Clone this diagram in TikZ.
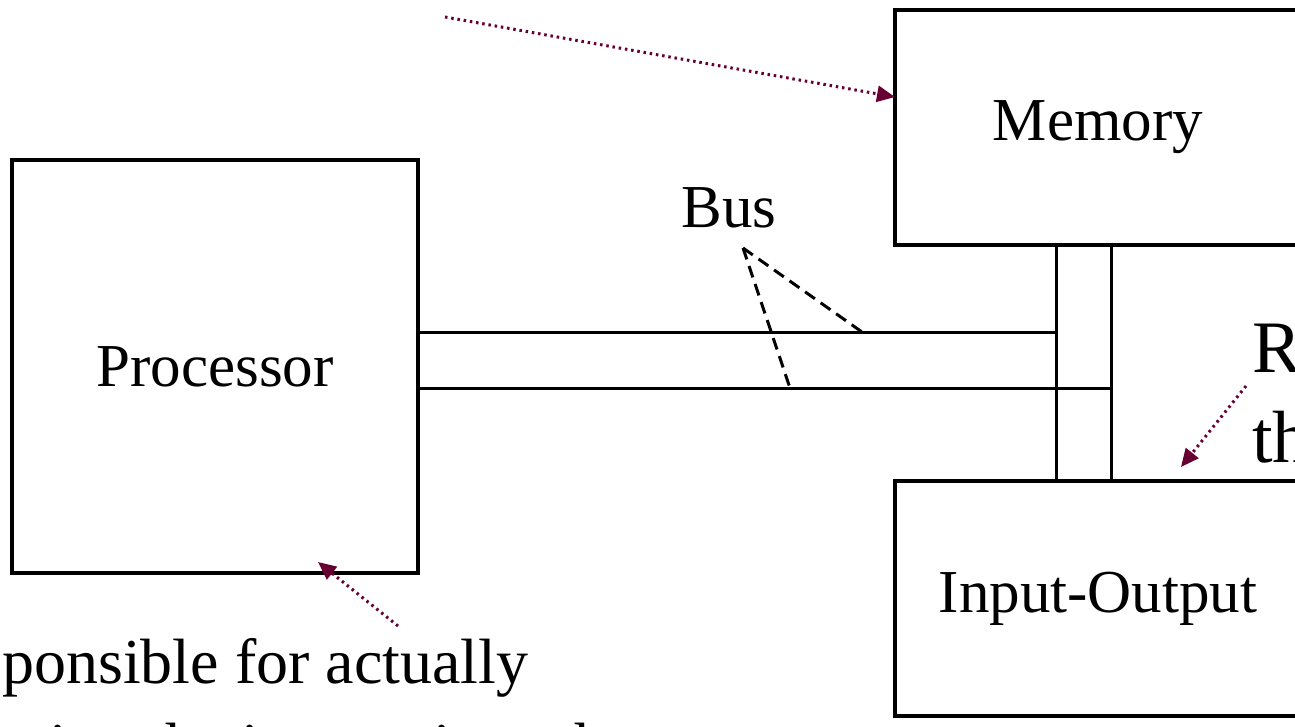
\documentclass[tikz,border=0pt]{standalone}
\usepackage{fontspec}
\setmainfont{Liberation Serif}
\usetikzlibrary{arrows.meta}
\definecolor{notecol}{RGB}{102,0,51}
\begin{document}
\begin{tikzpicture}[x=1pt,y=-1pt,
  box/.style={draw=black, line width=3.5pt, rectangle, minimum width=406pt, minimum height=235pt, inner sep=0pt, font=\fontsize{61}{70}\selectfont},
  busline/.style={draw=black, line width=3pt},
  buspointer/.style={draw=black, line width=3pt, dash pattern=on 12pt off 7pt},
  note/.style={font=\fontsize{64}{76}\selectfont, inner sep=0pt, anchor=base west},
  bignote/.style={font=\fontsize{74}{89}\selectfont, inner sep=0pt, anchor=base west},
  pointer/.style={draw=notecol, line width=3pt, dash pattern=on 2.5pt off 3.8pt, -{Triangle[length=18pt,width=16pt]}},
]
\useasboundingbox (0,0) rectangle (1295,726);
\clip (0,0) rectangle (1295,726);

\node[box, minimum height=413pt] (proc) at (215,366.5) {Processor};
\node[box] (mem) at (1098,127.5) {Memory};
\node[box] (io) at (1098,598.5) {Input-Output};
\node[font=\fontsize{61}{70}\selectfont, inner sep=0pt] (bus) at (729,208) {Bus};

\coordinate (j1) at (1056,332);
\coordinate (j2) at (1111,388);
\draw[busline] (proc.east |- j1) -- (j1);
\draw[busline] (proc.east |- j2) -- (j2);
\draw[busline] (mem.south -| j1) -- (io.north -| j1);
\draw[busline] (mem.south -| j2) -- (io.north -| j2);

\coordinate (bp) at (743,248);
\coordinate (d1) at (862,332);
\coordinate (d2) at (790,388);
\draw[buspointer] (bp) -- (d1);
\draw[buspointer] (bp) -- (d2);

\node[note] (n1) at (2,683) {ponsible for actually};
\node[note] (n2) at (0,767) {uting the instructions that};
\node[bignote] (r1) at (1252,372) {R};
\node[bignote] (r2) at (1252,462) {th};

\coordinate (a1s) at (445,17);
\coordinate (a1e) at (895,97);
\coordinate (a2s) at (398,626);
\coordinate (a2e) at (318,562);
\coordinate (a3s) at (1246,386);
\coordinate (a3e) at (1181,467);
\draw[pointer] (a1s) -- (a1e);
\draw[pointer] (a2s) -- (a2e);
\draw[pointer] (a3s) -- (a3e);
\end{tikzpicture}
\end{document}
